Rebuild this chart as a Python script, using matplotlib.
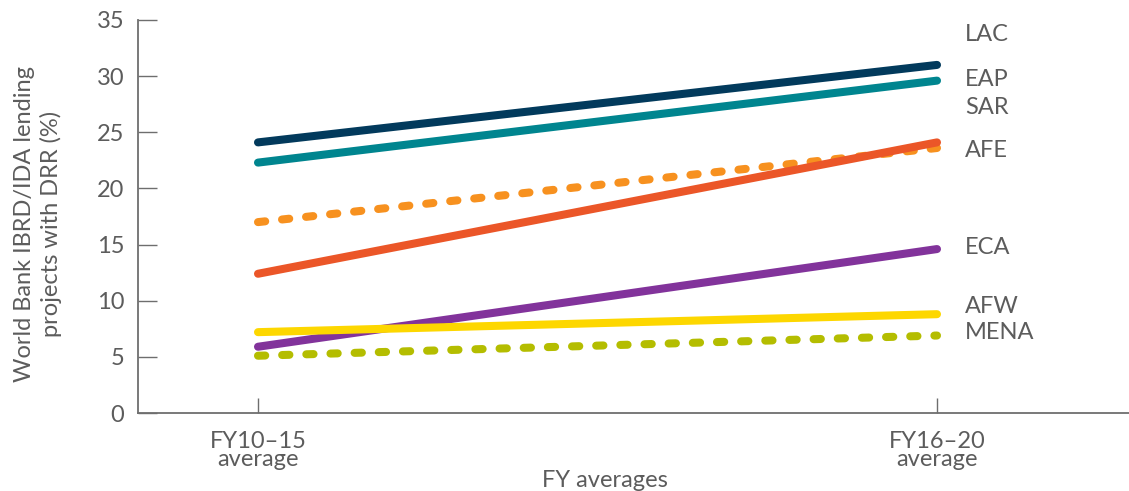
import matplotlib
matplotlib.use("Agg")
import matplotlib.pyplot as plt

# ---- data ----
periods = ["FY10\u201315\naverage", "FY16\u201320\naverage"]
regions = ["LAC", "EAP", "SAR", "AFE", "ECA", "AFW", "MENA"]
lac = [24.1, 31.0]
eap = [22.3, 29.6]
sar = [12.4, 24.1]
afe = [17.0, 23.6]
eca = [5.9, 14.6]
afw = [7.2, 8.8]
mena = [5.1, 6.9]

series = {"LAC": lac, "EAP": eap, "SAR": sar, "AFE": afe,
          "ECA": eca, "AFW": afw, "MENA": mena}
colors = {"LAC": "#023a5c", "EAP": "#00858f", "SAR": "#eb5628",
          "AFE": "#f7911f", "ECA": "#82339b", "AFW": "#fdd700",
          "MENA": "#b4bd00"}
dashed = {"AFE", "MENA"}
# label placement (layout only)
label_y = {"LAC": 33.75, "EAP": 29.7, "SAR": 27.2, "AFE": 23.4,
           "ECA": 14.7, "AFW": 9.5, "MENA": 7.2}

txt = "#5c5c5c"
fs = 17
plt.rcParams['font.family'] = ['Lato', 'DejaVu Sans']

fig = plt.figure(figsize=(11.29, 4.91), dpi=100)
ax = fig.add_axes([138/1129, 1-413/491, 1-138/1129, (413-20)/491])

x = list(range(len(periods)))
draw_order = ["AFE", "MENA", "LAC", "EAP", "SAR", "ECA", "AFW"]
for r in draw_order:
    kw = dict(color=colors[r], lw=5.8, solid_capstyle="round",
              dash_capstyle="round")
    if r in dashed:
        ln, = ax.plot(x, series[r], **kw)
        ln.set_dashes([0.9, 2.1])
    else:
        ax.plot(x, series[r], **kw)

for r in regions:
    ax.text(1.041, label_y[r], r, color=txt, fontsize=fs,
            va="center", ha="left")

ax.set_ylim(0, 35)
ax.set_xlim(-120/679, 1 + 192/679)
ax.set_yticks(range(0, 36, 5))
ax.set_xticks(x)
ax.set_xticklabels(periods)
for sp in ["top", "right"]:
    ax.spines[sp].set_visible(False)
for sp in ["left", "bottom"]:
    ax.spines[sp].set_color("#6e6e6e")
    ax.spines[sp].set_linewidth(1.3)
ax.tick_params(axis="y", direction="in", length=14, width=1.0,
               color="#6e6e6e", labelsize=fs, labelcolor=txt, pad=10)
ax.tick_params(axis="x", direction="in", length=11, width=1.0,
               color="#6e6e6e", labelsize=fs, labelcolor=txt, pad=13)
for lab in ax.get_xticklabels():
    lab.set_linespacing(0.8)

ax.set_xlabel("FY averages", fontsize=fs, color=txt)
ax.xaxis.set_label_coords((605-138)/991, -0.145)
ax.set_ylabel("World Bank IBRD/IDA lending\nprojects with DRR (%)",
              fontsize=fs, color=txt, linespacing=1.25)
ax.yaxis.set_label_coords(-0.077, 0.48)

fig.savefig("out.png", dpi=100)
